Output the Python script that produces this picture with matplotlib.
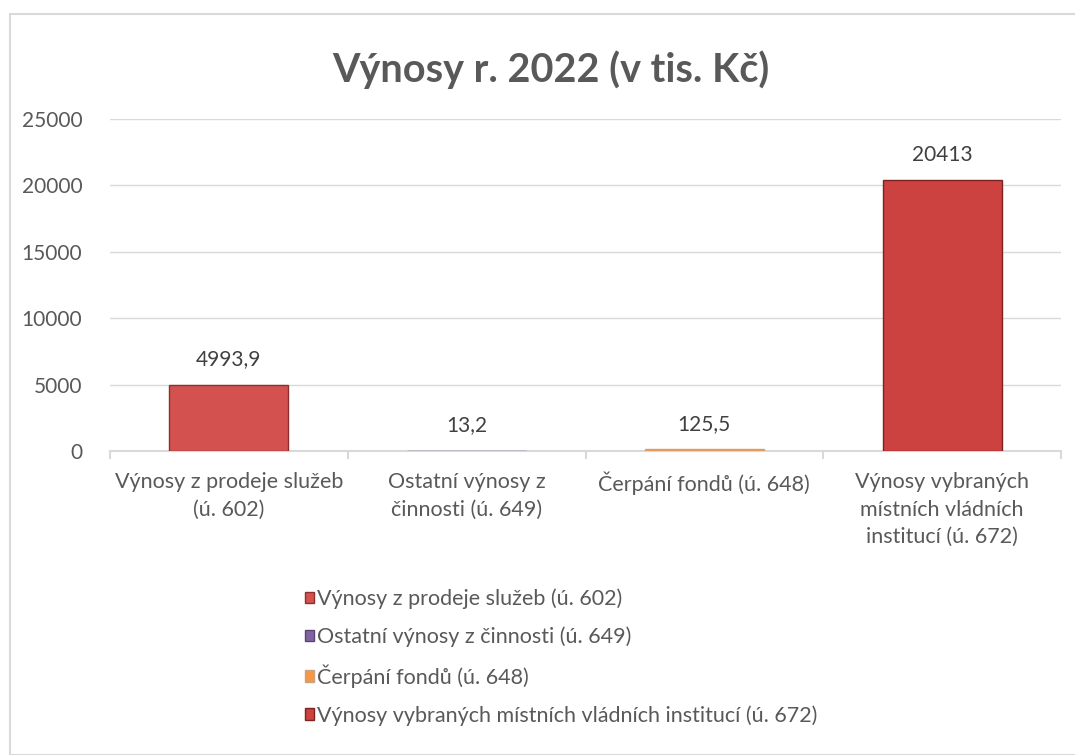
import matplotlib
matplotlib.use("Agg")
import matplotlib.pyplot as plt
from matplotlib.patches import Rectangle
import numpy as np

plt.rcParams['font.family'] = ['Lato', 'DejaVu Sans']

title = "Výnosy r. 2022 (v tis. Kč)"
categories = ["Výnosy z prodeje služeb (ú. 602)",
              "Ostatní výnosy z činnosti (ú. 649)",
              "Čerpání fondů (ú. 648)",
              "Výnosy vybraných místních vládních institucí (ú. 672)"]
tick_labels = ["Výnosy z prodeje služeb\n(ú. 602)",
               "Ostatní výnosy z\nčinnosti (ú. 649)",
               "Čerpání fondů (ú. 648)",
               "Výnosy vybraných\nmístních vládních\ninstitucí (ú. 672)"]
values = [4993.9, 13.2, 125.5, 20413]
value_labels = ["4993,9", "13,2", "125,5", "20413"]
colors = ["#D35250", "#8064A2", "#F79646", "#CC4240"]
edge_colors = ["#8E2F2D", "#5C4476", "#C9A27E", "#7E2220"]
yticks = [0, 5000, 10000, 15000, 20000, 25000]

fig = plt.figure(figsize=(10.75, 7.55), dpi=100)
fig.patches.append(Rectangle((10/1075, 0), 1.2, 1 - 14/755, transform=fig.transFigure,
                             fill=False, edgecolor="#D9D9D9", linewidth=1.5))

ax = fig.add_axes([110/1075, 1 - 451/755, (1061 - 110)/1075, (451 - 119)/755])
x = np.arange(len(categories))
bars = ax.bar(x, values, width=0.5, color=colors, edgecolor=edge_colors,
              linewidth=1.0, label=categories, zorder=3)
ax.set_xlim(-0.5, len(categories) - 0.5)
ax.set_ylim(0, 25000)
ax.set_yticks(yticks)
ax.set_yticklabels([str(v) for v in yticks], fontsize=15, color="#595959")
ax.tick_params(axis='y', length=0, pad=20)
ax.grid(axis='y', color="#D9D9D9", linewidth=1, zorder=0)
ax.set_axisbelow(True)
for s in ["left", "right", "top"]:
    ax.spines[s].set_visible(False)
ax.spines["bottom"].set_color("#D9D9D9")
ax.spines["bottom"].set_linewidth(1.5)

ax.set_xticks(x)
ax.set_xticklabels(tick_labels, fontsize=15.5, color="#595959", linespacing=1.48)
ax.tick_params(axis='x', length=0, pad=15)
ax.set_xticks(np.arange(-0.5, len(categories), 1.0), minor=True)
ax.tick_params(axis='x', which='minor', length=6, color="#D9D9D9", width=1.5)

for xi, v, lab in zip(x, values, value_labels):
    ax.annotate(lab, (xi, v), xytext=(0, 11), textcoords="offset points",
                ha="center", va="bottom", fontsize=15, color="#404040")

fig.text(0.512, 1 - 70/755, title, ha="center", va="center", fontsize=28.5,
         fontweight="bold", color="#595959")

handles = [Rectangle((0, 0), 1, 1, facecolor=c, edgecolor=e) for c, e in zip(colors, edge_colors)]
leg = fig.legend(handles, categories, loc="upper left",
                 bbox_to_anchor=(294/1075, 1 - 578/755), frameon=False,
                 fontsize=15.5, labelcolor="#595959", handlelength=0.45, handleheight=0.45,
                 handletextpad=0.1, labelspacing=0.8, borderpad=0)

fig.savefig("out.png", dpi=100)
